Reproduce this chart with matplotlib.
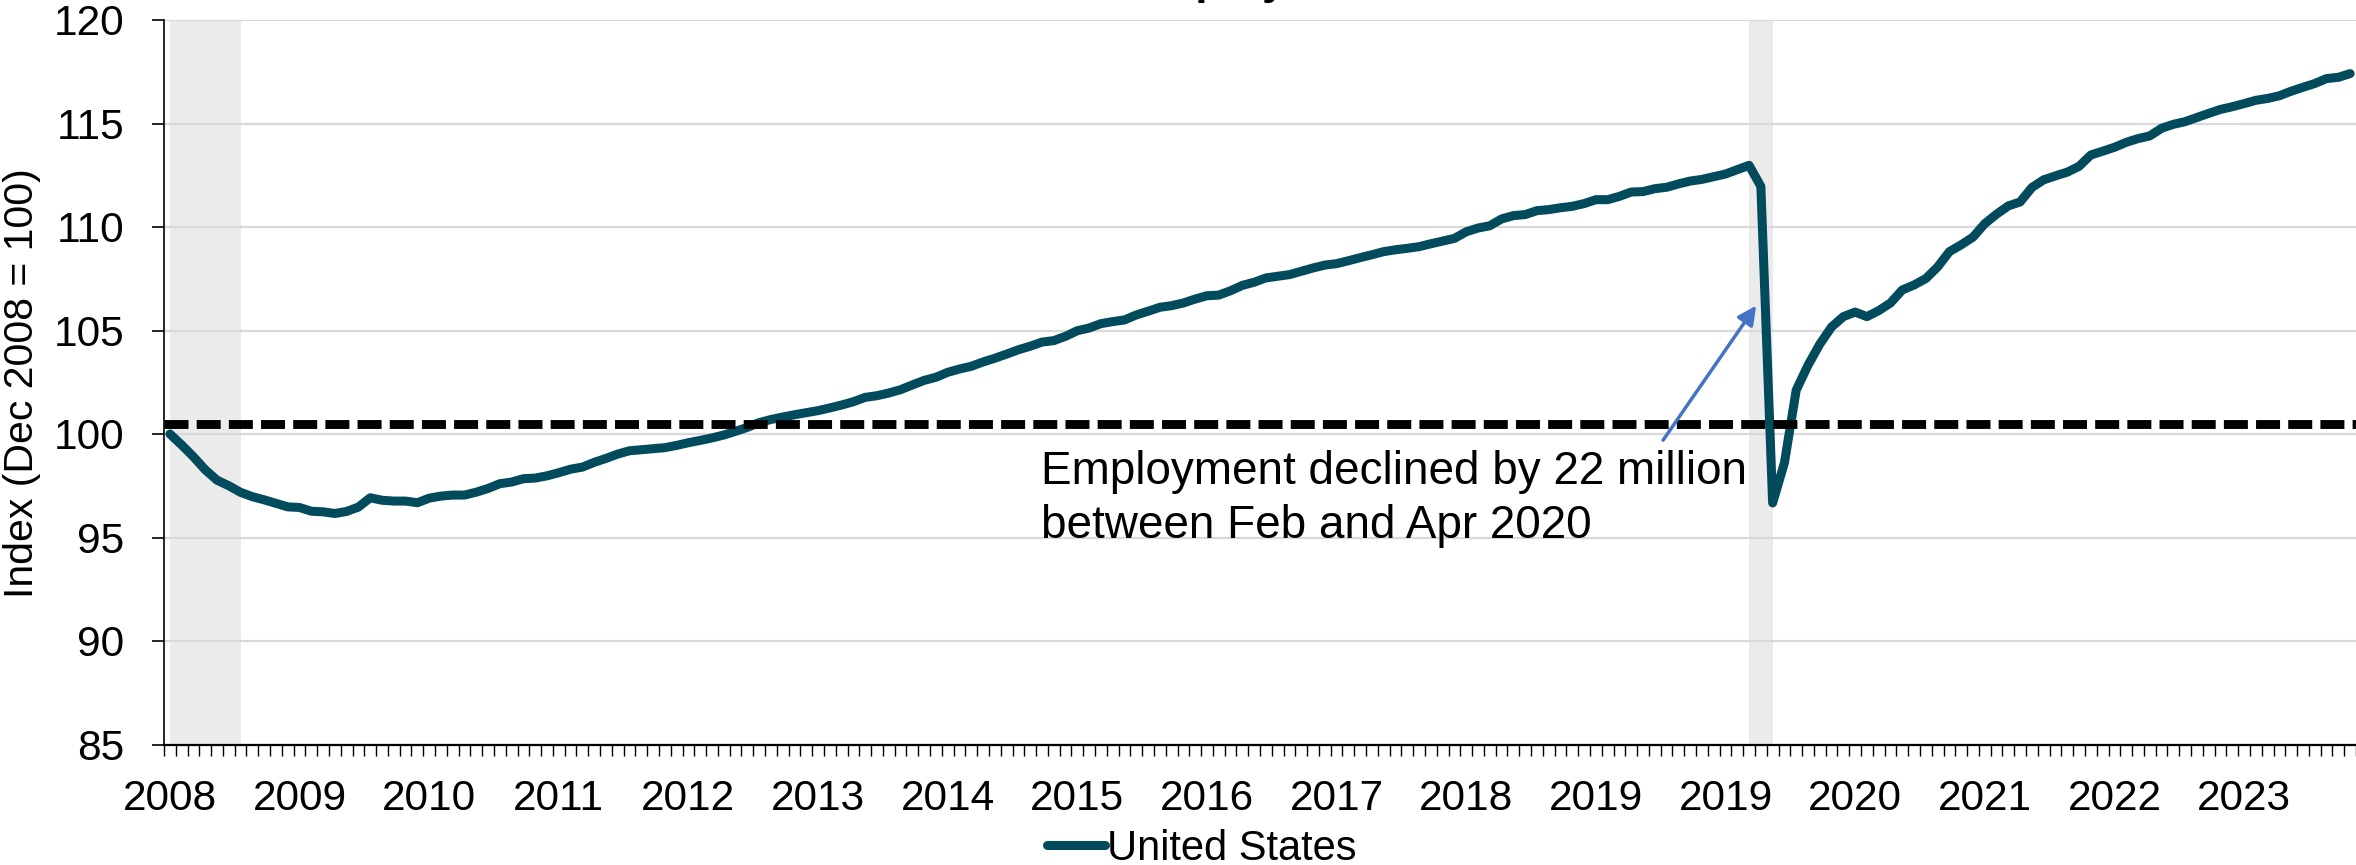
import matplotlib
matplotlib.use("Agg")
import matplotlib.pyplot as plt
import numpy as np
import pandas as pd

plt.rcParams['font.family'] = ['Liberation Sans', 'DejaVu Sans']

# monthly categories, Dec 2008 .. May 2024
months = pd.date_range('2008-12-01', periods=186, freq='MS')

# employment index, Dec 2008 = 100
us_index = [
    100.0, 99.47, 98.9, 98.27, 97.77, 97.5, 97.18, 96.97, 96.82, 96.65,
    96.48, 96.45, 96.27, 96.24, 96.16, 96.26, 96.47, 96.92, 96.8, 96.76,
    96.76, 96.68, 96.9, 97.0, 97.05, 97.05, 97.19, 97.37, 97.6, 97.68,
    97.84, 97.87, 97.98, 98.13, 98.3, 98.4, 98.63, 98.82, 99.03, 99.19,
    99.24, 99.29, 99.34, 99.45, 99.58, 99.69, 99.81, 99.95, 100.13, 100.32,
    100.55, 100.7, 100.82, 100.93,
    101.03, 101.13, 101.26, 101.4, 101.56, 101.77, 101.85, 101.98, 102.14, 102.37,
    102.59, 102.74, 102.98, 103.14, 103.27, 103.48, 103.66, 103.86, 104.07, 104.24,
    104.44, 104.51, 104.72, 104.99, 105.12, 105.33, 105.43, 105.51, 105.75, 105.93,
    106.12, 106.2, 106.33, 106.52, 106.68, 106.71, 106.92, 107.18, 107.33, 107.54,
    107.62, 107.7, 107.86, 108.02, 108.16, 108.23, 108.37, 108.52, 108.66, 108.81,
    108.9, 108.97, 109.05, 109.19, 109.32, 109.45, 109.77,
    109.95, 110.06, 110.39, 110.55, 110.6, 110.79, 110.84, 110.93, 111.0,
    111.13, 111.32, 111.32, 111.48, 111.69, 111.71, 111.85, 111.92, 112.08, 112.22,
    112.3, 112.43, 112.56, 112.77, 112.98, 111.96,
    96.67, 98.61, 102.12, 103.32, 104.34, 105.17, 105.67, 105.89, 105.67, 105.96,
    106.33, 106.96, 107.2, 107.51, 108.07, 108.81, 109.14, 109.51, 110.16, 110.62,
    111.02, 111.21, 111.91, 112.28, 112.47, 112.65, 112.93, 113.48, 113.66, 113.85,
    114.09, 114.27, 114.4, 114.77, 114.96, 115.09, 115.29, 115.49, 115.68, 115.81,
    115.96, 116.12, 116.21, 116.34, 116.56, 116.75, 116.93, 117.17, 117.23, 117.41,
]

recessions = [('2008-12', '2009-06'), ('2020-02', '2020-04')]
reference_level = 100.5
label_step = 11

note_text = "Employment declined by 22 million\nbetween Feb and Apr 2020"
arrow_from = ('2019-06', 99.7)
arrow_to = ('2020-03', 106.2)

line_color = '#014B5C'

x = np.arange(len(months))


def month_pos(m):
    return months.get_loc(pd.Timestamp(m + '-01'))


fig = plt.figure(figsize=(23.56, 8.65), dpi=100)
ax = fig.add_axes([164 / 2356, 1 - 744.5 / 865, 1 - 164 / 2356, 724.5 / 865])

for start, end in recessions:
    ax.axvspan(month_pos(start), month_pos(end), color='#EBEBEB', lw=0, zorder=0)

ax.plot(x, us_index, color=line_color, lw=6.5, solid_joinstyle='round',
        solid_capstyle='round', label='United States', zorder=3)
ax.axhline(reference_level, color='black', lw=6.4, dashes=(2.7, 0.92),
           dash_capstyle='butt', zorder=4)

# annotation (baseline of the last line)
ax.text(73.9, 94.98, note_text, fontsize=33, va='baseline', ha='left',
        linespacing=1.3, zorder=5)
ax.annotate('', xy=(month_pos(arrow_to[0]) - 0.4, arrow_to[1]),
            xytext=(month_pos(arrow_from[0]) + 0.7, arrow_from[1]),
            arrowprops=dict(arrowstyle='-|>', color='#4472C4', lw=2.5,
                            mutation_scale=28, shrinkA=0, shrinkB=0),
            zorder=5)

ax.set_xlim(-0.5, len(months) - 0.5)
ax.set_ylim(85, 120)
ax.set_yticks(np.arange(85, 121, 5))
ax.yaxis.grid(True, color='#D9D9D9', lw=1.6)
ax.set_axisbelow(True)

ax.set_xticks(x[::label_step])
ax.set_xticklabels([str(d.year) for d in months[::label_step]])
ax.set_xticks(np.arange(-0.5, len(months), 1), minor=True)
ax.tick_params(axis='x', which='major', length=0, pad=25, labelsize=30.5)
ax.tick_params(axis='x', which='minor', length=8, width=1, direction='out')
ax.tick_params(axis='y', length=8.6, width=1.2, pad=20, labelsize=30.5)

for side in ['top', 'right']:
    ax.spines[side].set_visible(False)
ax.spines['left'].set_linewidth(1.2)
ax.spines['bottom'].set_linewidth(1.6)

fig.text(22 / 2356, 1 - 383 / 865, 'Index (Dec 2008 = 100)', rotation=90,
         ha='center', va='center', fontsize=29.5)

fig.text(1260 / 2356, 1 + 6 / 865, 'Employment', ha='center', va='baseline',
         fontsize=32, fontweight='bold')

fig.legend(loc='center', bbox_to_anchor=(1202 / 2356, 16 / 865), frameon=False,
           fontsize=30, handlelength=1.4, handletextpad=0.05, borderpad=0)

fig.savefig('out.png', dpi=100)
